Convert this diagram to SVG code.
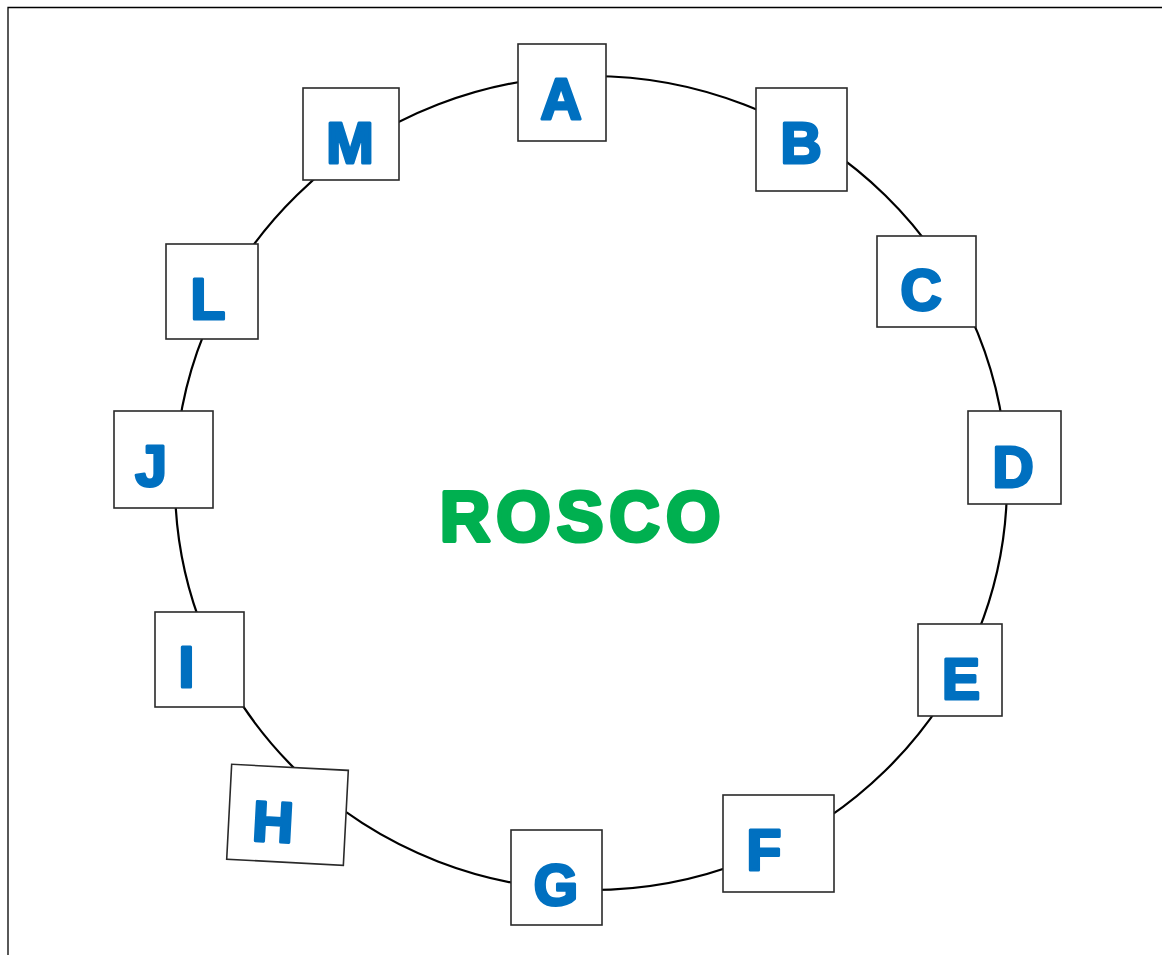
<svg xmlns="http://www.w3.org/2000/svg" width="1162" height="955" viewBox="0 0 1162 955">
  <style>
    .box { fill: #ffffff; stroke: #2a2a2a; stroke-width: 1.6; }
    .lbl { font-family: "Liberation Sans", Arial, sans-serif; font-weight: bold; font-size: 57px; fill: #0070C0; stroke: #0070C0; stroke-width: 3; stroke-linejoin: round; text-anchor: middle; }
    .title { font-family: "Liberation Sans", Arial, sans-serif; font-weight: bold; font-size: 70px; fill: #00B050; stroke: #00B050; stroke-width: 4; stroke-linejoin: round; letter-spacing: 6px; text-anchor: middle; }
    .ring { fill: none; stroke: #000000; stroke-width: 2.2; }
    .frame { fill: none; stroke: #000000; stroke-width: 1.3; }
  </style>
  <rect x="0" y="0" width="1162" height="955" fill="#ffffff"/>
  <path class="frame" d="M8,955 V7.5 H1162"/>
  <g id="connectors">
    <ellipse class="ring" cx="591" cy="483" rx="416" ry="407"/>
  </g>
  <g id="center">
    <text class="title" x="583" y="541">ROSCO</text>
  </g>
  <g id="node-A">
    <rect class="box" x="518" y="44" width="88" height="97"/>
    <text class="lbl" x="561" y="119">A</text>
  </g>
  <g id="node-B">
    <rect class="box" x="756" y="88" width="91" height="103"/>
    <text class="lbl" x="801" y="163">B</text>
  </g>
  <g id="node-C">
    <rect class="box" x="877" y="236" width="99" height="91"/>
    <text class="lbl" x="921" y="310">C</text>
  </g>
  <g id="node-D">
    <rect class="box" x="968" y="411" width="93" height="93"/>
    <text class="lbl" x="1013" y="486.5">D</text>
  </g>
  <g id="node-E">
    <rect class="box" x="918" y="624" width="84" height="92"/>
    <text class="lbl" x="961" y="699">E</text>
  </g>
  <g id="node-F">
    <rect class="box" x="723" y="795" width="111" height="97"/>
    <text class="lbl" x="764" y="869.5">F</text>
  </g>
  <g id="node-G">
    <rect class="box" x="511" y="830" width="91" height="95"/>
    <text class="lbl" x="556" y="905">G</text>
  </g>
  <g id="node-H" transform="rotate(3 287.5 814.8)">
    <rect class="box" x="229.1" y="767.25" width="116.8" height="95.1"/>
    <text class="lbl" x="273.6" y="842.4">H</text>
  </g>
  <g id="node-I">
    <rect class="box" x="155" y="612" width="89" height="95"/>
    <text class="lbl" x="186.5" y="686.5">I</text>
  </g>
  <g id="node-J">
    <rect class="box" x="114" y="411" width="99" height="97"/>
    <text class="lbl" x="151" y="486">J</text>
  </g>
  <g id="node-L">
    <rect class="box" x="166" y="244" width="92" height="95"/>
    <text class="lbl" x="208" y="319">L</text>
  </g>
  <g id="node-M">
    <rect class="box" x="303" y="88" width="96" height="92"/>
    <text class="lbl" x="350" y="162.5">M</text>
  </g>
</svg>
